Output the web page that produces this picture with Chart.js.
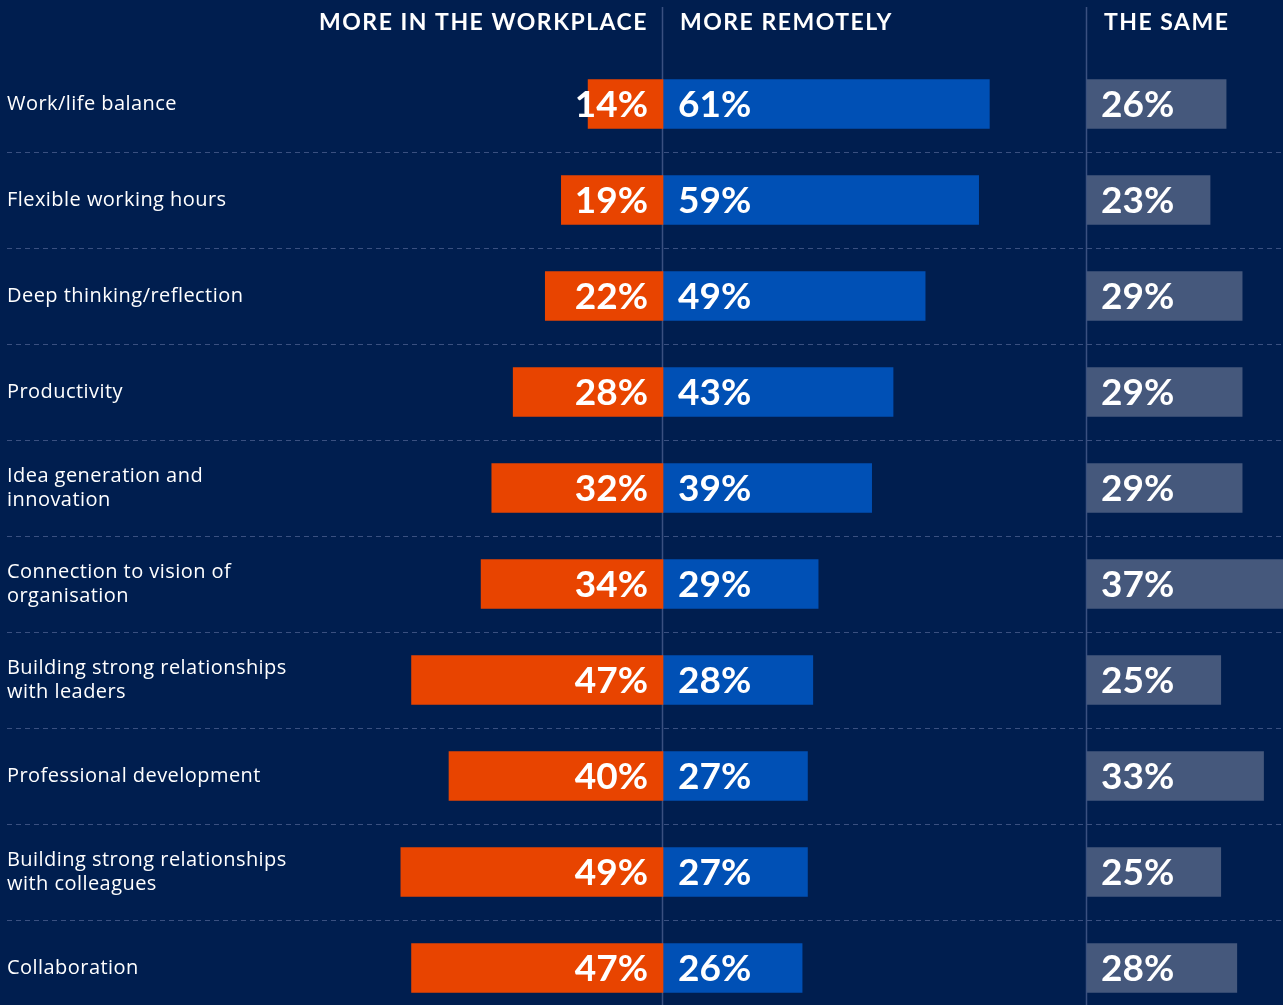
<!DOCTYPE html>
<html><head><meta charset="utf-8">
<script src="https://cdn.jsdelivr.net/npm/chart.js@4.4.0/dist/chart.umd.min.js"></script>
<style>html,body{margin:0;padding:0;background:#001e4f;overflow:hidden;width:1283px;height:1005px}canvas{display:block}</style>
</head><body><canvas id="c" width="1283" height="1021" style="width:1283px;height:1021px"></canvas>
<script>
// ---- data ----
const categories = [
  ["Work/life balance"],
  ["Flexible working hours"],
  ["Deep thinking/reflection"],
  ["Productivity"],
  ["Idea generation and", "innovation"],
  ["Connection to vision of", "organisation"],
  ["Building strong relationships", "with leaders"],
  ["Professional development"],
  ["Building strong relationships", "with colleagues"],
  ["Collaboration"]
];
const workplace = [14, 19, 22, 28, 32, 34, 47, 40, 49, 47];
const remotely  = [61, 59, 49, 43, 39, 29, 28, 27, 27, 26];
const same      = [26, 23, 29, 29, 29, 37, 25, 33, 25, 28];
const headers   = ["MORE IN THE WORKPLACE", "MORE REMOTELY", "THE SAME"];
const suffix = "%";

// ---- layout ----
const W = 1283;
const PX_PER_PCT = 5.35;
const CENTER_X = 663;
const SAME_X = 1087;
const ORANGE = "#e84400";
const BLUE = "#0050b5";
const GREY = "#45587c";
const LINE = "#3a5080";

const decor = {
  id: "decor",
  beforeDatasetsDraw(chart) {
    const ctx = chart.ctx, y = chart.scales.y, x = chart.scales.x, xs = chart.scales.xs;
    ctx.save();
    ctx.strokeStyle = LINE; ctx.lineWidth = 1; ctx.setLineDash([5, 4]);
    for (let i = 0; i < categories.length - 1; i++) {
      const yy = Math.round((y.getPixelForValue(i) + y.getPixelForValue(i + 1)) / 2) + 0.5;
      ctx.beginPath(); ctx.moveTo(7, yy); ctx.lineTo(W, yy); ctx.stroke();
    }
    ctx.setLineDash([]);
    ctx.lineWidth = 1.5;
    [x.getPixelForValue(0), xs.getPixelForValue(0)].forEach(px => {
      ctx.beginPath(); ctx.moveTo(px - 0.5, 7); ctx.lineTo(px - 0.5, chart.height); ctx.stroke();
    });
    ctx.fillStyle = "#ffffff";
    ctx.font = "bold 23px Lato";
    ctx.letterSpacing = "1.5px";
    ctx.textBaseline = "middle";
    ctx.textAlign = "right";
    ctx.fillText(headers[0], x.getPixelForValue(0) - 15, 23);
    ctx.textAlign = "left";
    ctx.fillText(headers[1], x.getPixelForValue(0) + 17, 23);
    ctx.fillText(headers[2], xs.getPixelForValue(0) + 17, 23);
    ctx.restore();
  },
  afterDatasetsDraw(chart) {
    const ctx = chart.ctx, y = chart.scales.y, x = chart.scales.x, xs = chart.scales.xs;
    ctx.save();
    ctx.fillStyle = "#ffffff";
    ctx.textBaseline = "middle";
    ctx.font = "20px 'Open Sans'";
    ctx.letterSpacing = "0.45px";
    ctx.textAlign = "left";
    categories.forEach((lines, i) => {
      const cy = y.getPixelForValue(i);
      const lh = 24;
      lines.forEach((t, j) => {
        ctx.fillText(t, 7, cy + (j - (lines.length - 1) / 2) * lh);
      });
    });
    ctx.letterSpacing = "0px";
    ctx.font = "bold 37px Lato";
    categories.forEach((_, i) => {
      const cy = y.getPixelForValue(i) + 1;
      ctx.textAlign = "right";
      ctx.fillText(workplace[i] + suffix, x.getPixelForValue(0) - 15, cy);
      ctx.textAlign = "left";
      ctx.fillText(remotely[i] + suffix, x.getPixelForValue(0) + 15, cy);
      ctx.fillText(same[i] + suffix, xs.getPixelForValue(0) + 14, cy);
    });
    ctx.restore();
  }
};

new Chart(document.getElementById("c"), {
  type: "bar",
  data: {
    labels: categories.map(c => c.join(" ")),
    datasets: [
      { data: workplace.map(v => -v), backgroundColor: ORANGE, xAxisID: "x" },
      { data: remotely, backgroundColor: BLUE, xAxisID: "x" },
      { data: same, backgroundColor: GREY, xAxisID: "xs" }
    ]
  },
  options: {
    indexAxis: "y",
    responsive: false,
    animation: false,
    devicePixelRatio: 1,
    layout: { padding: { top: 56, bottom: 5, left: 0, right: 0 } },
    datasets: { bar: { grouped: false, barThickness: 49, borderWidth: 0 } },
    plugins: { legend: { display: false }, tooltip: { enabled: false } },
    scales: {
      y: { type: "category", display: false, offset: true },
      x: { type: "linear", display: false, min: -CENTER_X / PX_PER_PCT, max: (W - CENTER_X) / PX_PER_PCT },
      xs: { type: "linear", display: false, min: -SAME_X / PX_PER_PCT, max: (W - SAME_X) / PX_PER_PCT }
    }
  },
  plugins: [decor]
});
</script></body></html>
